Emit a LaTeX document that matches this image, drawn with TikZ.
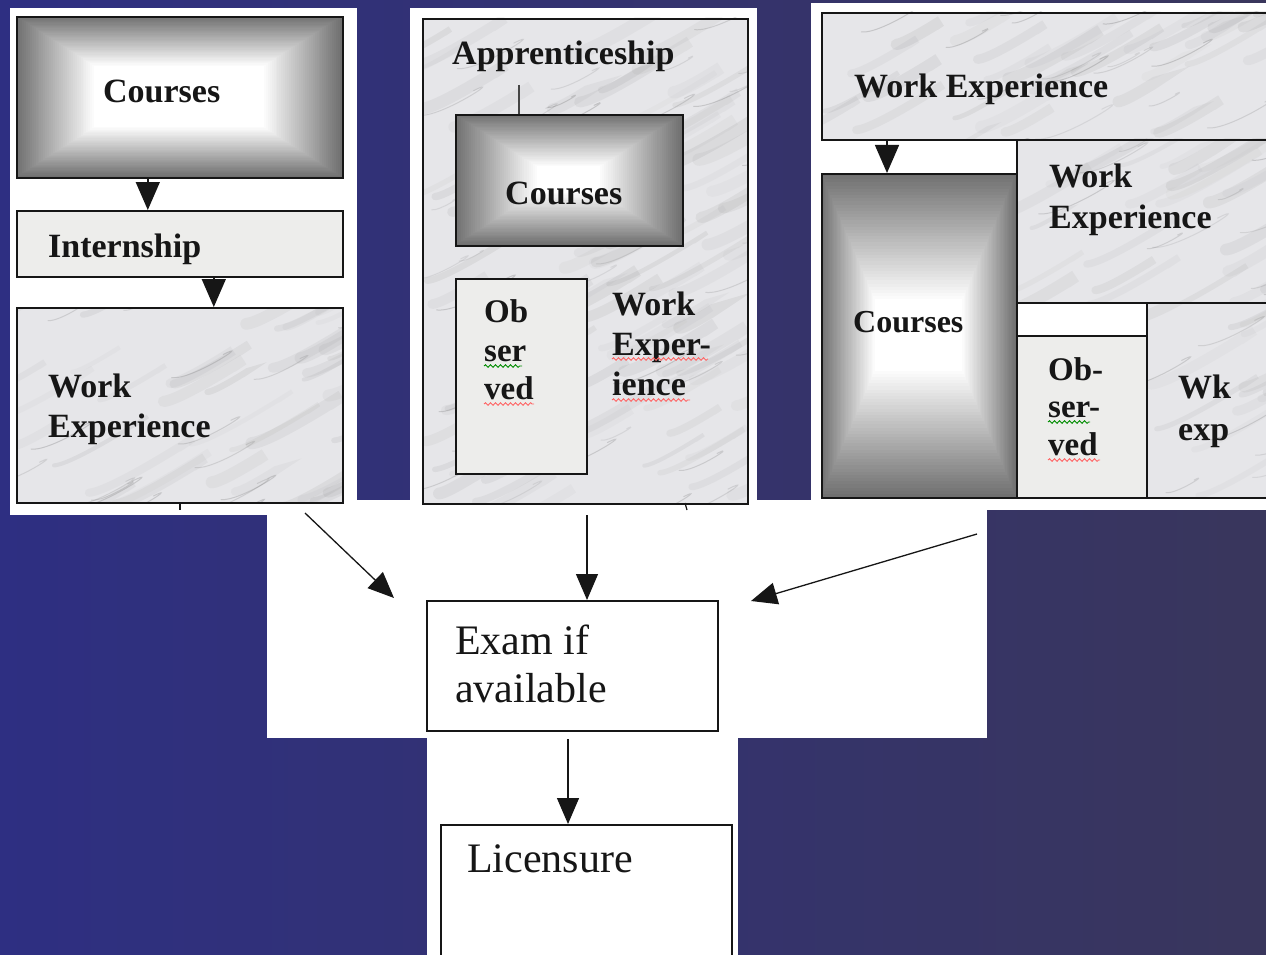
\documentclass[tikz,border=0pt]{standalone}
\usepackage{fontspec}
\setmainfont{Liberation Serif}
\usetikzlibrary{arrows.meta,decorations.pathmorphing}
\definecolor{bgL}{RGB}{46,47,130}
\definecolor{bgR}{RGB}{57,54,92}
\definecolor{edgegray}{RGB}{112,112,112}
\definecolor{marble}{RGB}{230,230,233}
\definecolor{speck}{RGB}{237,237,235}
\definecolor{ink}{RGB}{22,22,22}
% rectangular "from centre" gradient: x1 y1 x2 y2 fx fy
\newcommand{\gradrect}[6]{%
  \foreach \i in {0,...,40}{%
    \pgfmathsetmacro\gdx{(#3-#1)/2*\i/40*#5}%
    \pgfmathsetmacro\gdy{(#4-#2)/2*\i/40*#6}%
    \pgfmathsetmacro\gc{\i*100/40}%
    \fill[white!\gc!edgegray] (#1+\gdx,#2+\gdy) rectangle (#3-\gdx,#4-\gdy);
  }}
% marble-like fill with soft blotches and veins: x1 y1 x2 y2
\newcommand{\marblefill}[4]{%
  \fill[marble] (#1,#2) rectangle (#3,#4);
  \begin{scope}
    \clip (#1,#2) rectangle (#3,#4);
    \pgfmathtruncatemacro\mn{(#3-#1)/40*(#4-#2)/40}%
    \foreach \k in {1,...,\mn}{%
      \pgfmathsetmacro\mx{#1-20+rnd*(#3-#1+20)}%
      \pgfmathsetmacro\my{#2+rnd*(#4-#2+20)}%
      \pgfmathsetmacro\ml{30+rnd*60}%
      \pgfmathsetmacro\mw{4+rnd*9}%
      \pgfmathsetmacro\mo{0.04+rnd*0.08}%
      \draw[black!50, opacity=\mo, line width=\mw pt, line cap=round]
        (\mx,\my) .. controls +(\ml*0.3,-\ml*0.02) and +(\ml*0.6,-\ml*0.4) .. +(\ml,-\ml*0.5);
    }
    \pgfmathtruncatemacro\mv{(#3-#1)/60*(#4-#2)/60}%
    \foreach \k in {1,...,\mv}{%
      \pgfmathsetmacro\mx{#1-20+rnd*(#3-#1+20)}%
      \pgfmathsetmacro\my{#2+rnd*(#4-#2+20)}%
      \pgfmathsetmacro\ml{20+rnd*50}%
      \pgfmathsetmacro\mo{0.12+rnd*0.15}%
      \draw[black!60, opacity=\mo, line width=1pt, line cap=round]
        (\mx,\my) .. controls +(\ml*0.4,\ml*0.05) and +(\ml*0.6,-\ml*0.3) .. +(\ml,-\ml*0.45);
    }
  \end{scope}}
\tikzset{
  box/.style={draw=ink, line width=1.6pt, rectangle, inner sep=0pt, anchor=north west},
  lab/.style={anchor=base west, inner sep=0pt, text=ink, font=\fontsize{34}{40}\selectfont\bfseries},
  obs/.style={lab, font=\fontsize{33}{38}\selectfont\bfseries},
  plain/.style={anchor=base west, inner sep=0pt, text=ink, font=\fontsize{42}{48}\selectfont},
  parr/.style={draw=ink, line width=1.4pt, -{Triangle[length=28pt,width=24pt]}},
  carr/.style={draw=ink, line width=1.3pt, -{Triangle[length=26pt,width=22pt]}},
  wavyred/.style={draw=red!60!white, line width=0.9pt, decorate, decoration={snake, amplitude=1.3pt, segment length=5pt}},
  wavygreen/.style={draw=green!55!black, line width=0.9pt, decorate, decoration={snake, amplitude=1.3pt, segment length=5pt}},
}
\begin{document}
\begin{tikzpicture}[x=1pt,y=-1pt]
\pgfmathsetseed{4711}
\useasboundingbox (0,0) rectangle (1266,955);
\shade[left color=bgL, right color=bgR] (0,0) rectangle (1266,955);
% white regions
\fill[white] (10,8) rectangle (357,515);
\fill[white] (410,8) rectangle (757,505);
\fill[white] (811,3) rectangle (1266,510);
\fill[white] (267,500) rectangle (987,738);
\fill[white] (427,738) rectangle (738,955);

% ---------- panel 1 ----------
\gradrect{16}{16}{342}{177}{0.48}{0.62}
\node[box, minimum width=326pt, minimum height=161pt] (c1) at (16,16) {};
\node[lab] (c1t) at (103,103) {Courses};
\node[box, fill=speck, minimum width=326pt, minimum height=66pt] (i1) at (16,210) {};
\node[lab] (i1t) at (48,257) {Internship};
\marblefill{16}{307}{342}{502}
\node[box, minimum width=326pt, minimum height=195pt] (w1) at (16,307) {};
\node[lab] (w1a) at (48,397) {Work};
\node[lab] (w1b) at (48,437) {Experience};
\draw[parr] ([xshift=-32pt]c1.south) -- ([xshift=-32pt]i1.north);
\draw[parr] ([xshift=34pt]i1.south) -- ([xshift=34pt]w1.north);
\draw[ink, line width=1.2pt] (180,503) -- (180,510);

% ---------- panel 2 ----------
\marblefill{422}{18}{747}{503}
\node[box, minimum width=325pt, minimum height=485pt] (p2) at (422,18) {};
\node[lab] (appr) at (452,65) {Apprenticeship};
\gradrect{455}{114}{682}{245}{0.72}{0.8}
\node[box, minimum width=227pt, minimum height=131pt] (c2) at (455,114) {};
\node[lab] (c2t) at (505,204) {Courses};
\coordinate (apptick) at (519,85);
\draw[ink!80, line width=2pt] (apptick) -- (apptick |- c2.north);
\node[box, fill=speck, minimum width=131pt, minimum height=195pt] (o2) at (455,278) {};
\node[obs] (o2a) at (484,322) {Ob};
\node[obs] (o2b) at (484,361) {ser};
\node[obs] (o2c) at (484,399) {ved};
\node[lab] (w2a) at (612,315) {Work};
\node[lab] (w2b) at (612,355) {Exper-};
\node[lab] (w2c) at (612,395) {ience};
\draw[wavygreen] (o2b.base west) ++(0,5) -- ++(38,0);
\draw[wavyred] (o2c.base west) ++(0,5) -- ++(50,0);
\draw[wavyred] (w2b.base west) ++(0,4) -- ++(96,0);
\draw[wavyred] (w2c.base west) ++(0,5) -- ++(78,0);
\draw[ink, line width=1.2pt] (685,503) -- (687,510);

% ---------- panel 3 ----------
\marblefill{821}{12}{1268}{139}
\node[box, minimum width=460pt, minimum height=127pt] (t3) at (821,12) {};
\node[lab] (t3t) at (854,98) {Work Experience};
\gradrect{821}{173}{1016}{497}{0.55}{0.78}
\node[box, minimum width=195pt, minimum height=324pt] (c3) at (821,173) {};
\node[lab, font=\fontsize{32}{38}\selectfont\bfseries] (c3t) at (853,332) {Courses};
\marblefill{1016}{139}{1268}{302}
\node[box, minimum width=260pt, minimum height=163pt] (w3) at (1016,139) {};
\node[lab] (w3a) at (1049,187) {Work};
\node[lab] (w3b) at (1049,228) {Experience};
\node[box, fill=white, minimum width=130pt, minimum height=33pt] (e3) at (1016,302) {};
\node[box, fill=speck, minimum width=130pt, minimum height=162pt] (o3) at (1016,335) {};
\node[obs] (o3a) at (1048,380) {Ob-};
\node[obs] (o3b) at (1048,417) {ser-};
\node[obs] (o3c) at (1048,455) {ved};
\marblefill{1146}{302}{1268}{497}
\node[box, minimum width=130pt, minimum height=195pt] (k3) at (1146,302) {};
\node[lab] (k3a) at (1178,398) {Wk};
\node[lab] (k3b) at (1178,440) {exp};
\draw[wavygreen] (o3b.base west) ++(0,5) -- ++(42,0);
\draw[wavyred] (o3c.base west) ++(0,5) -- ++(52,0);
\coordinate (t3x) at (887,0);
\draw[parr] (t3x |- t3.south) -- (t3x |- c3.north);

% ---------- centre ----------
\node[box, fill=white, minimum width=291pt, minimum height=130pt] (exam) at (426,600) {};
\node[plain] (exa) at (455,654) {Exam if};
\node[plain] (exb) at (455,702) {available};
\node[box, fill=white, minimum width=291pt, minimum height=145pt] (lic) at (440,824) {};
\node[plain] (lict) at (467,872) {Licensure};

\coordinate (s1) at (305,513);
\coordinate (e1) at (394,598);
\draw[carr] (s1) -- (e1);
\coordinate (s2) at (587,515);
\draw[carr] (s2) -- (s2 |- exam.north);
\coordinate (s3) at (977,534);
\coordinate (e3t) at (751,601);
\draw[carr] (s3) -- (e3t);
\coordinate (s4) at (568,739);
\draw[carr] (s4) -- (s4 |- lic.north);
\end{tikzpicture}
\end{document}
